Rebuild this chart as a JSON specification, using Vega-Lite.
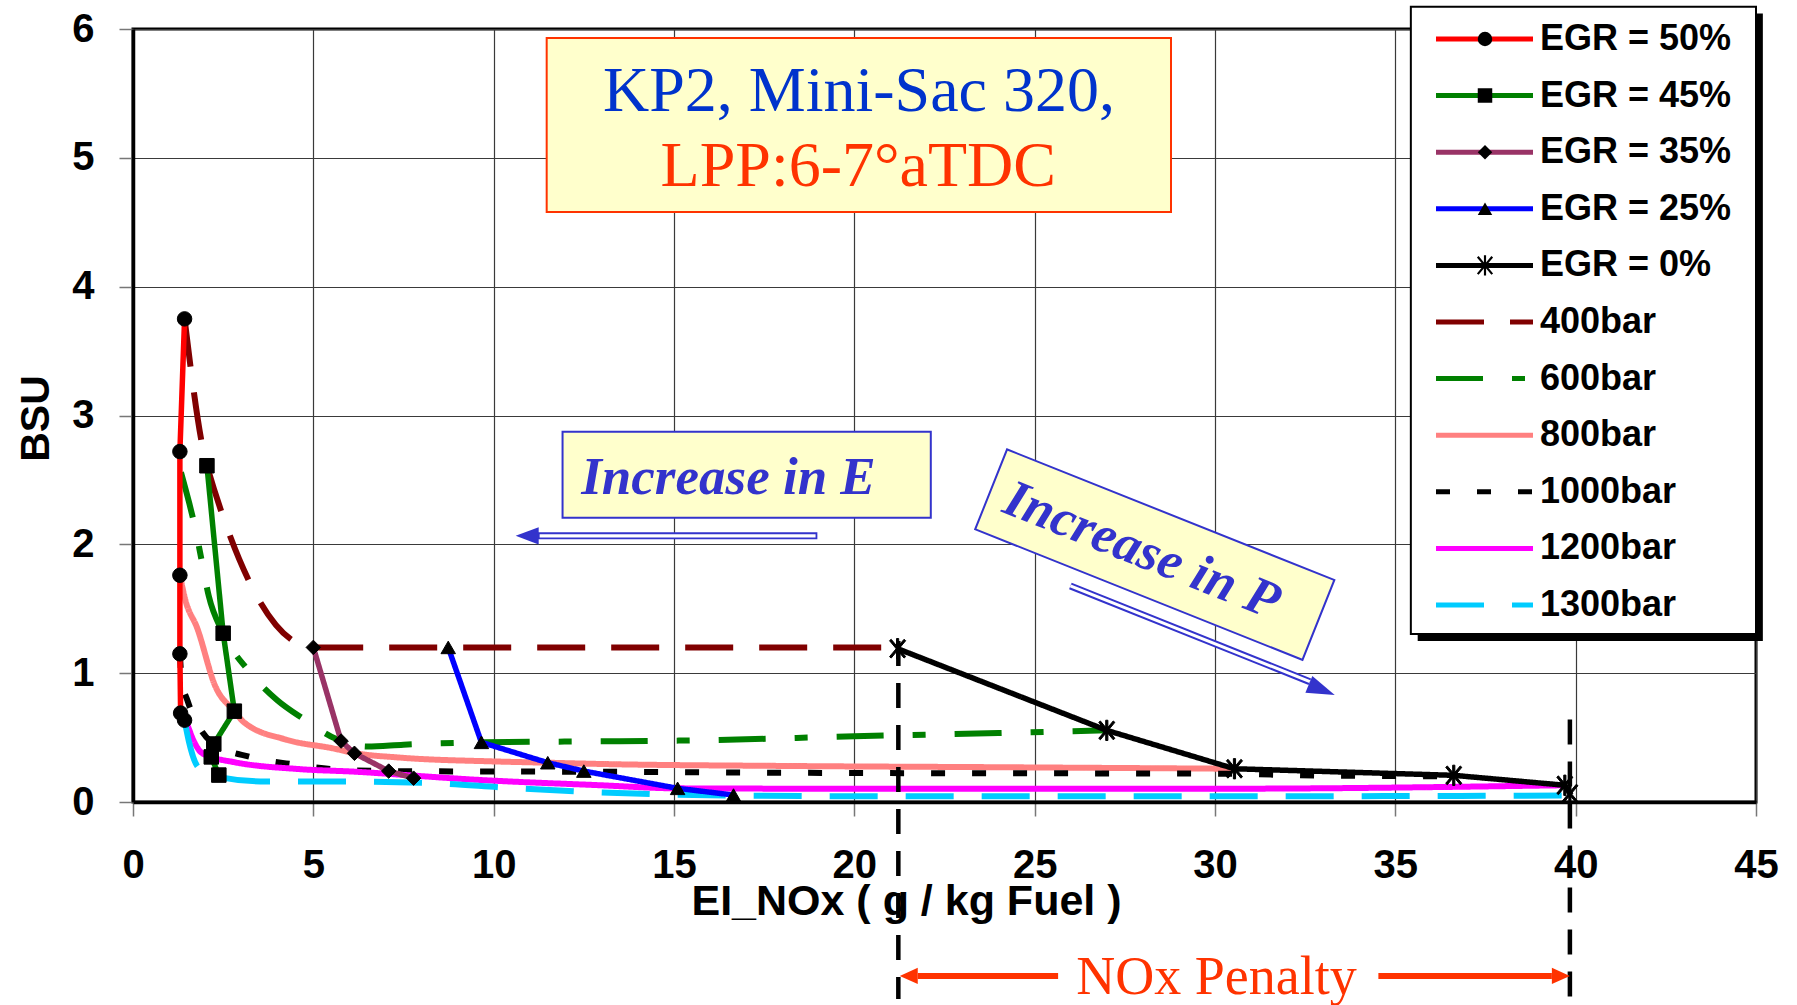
{
  "$schema": "https://vega.github.io/schema/vega-lite/v6.json",
  "width": 1623,
  "height": 773,
  "autosize": {"type": "none"},
  "padding": {"left": 133, "top": 29, "right": 41, "bottom": 203},
  "background": "white",
  "config": {
    "view": {"stroke": "black", "strokeWidth": 3},
    "axis": {
      "domainColor": "black", "domainWidth": 3.5,
      "grid": true, "gridColor": "#3a3a3a", "gridWidth": 1.2,
      "tickColor": "#777777", "tickWidth": 1.5, "tickSize": 14,
      "labelFont": "Liberation Sans", "labelFontWeight": "bold", "labelFontSize": 40, "labelColor": "black",
      "labelFlush": false, "labelOverlap": false,
      "titleFont": "Liberation Sans", "titleFontWeight": "bold", "titleFontSize": 41, "titleColor": "black"
    },
    "axisX": {"labelPadding": 29, "titleX": 773, "titleY": 112, "titleBaseline": "alphabetic", "titleAlign": "center", "titleFontSize": 43},
    "axisY": {"labelPadding": 25, "titleX": -85, "titleY": 389, "titleAngle": -90, "titleBaseline": "alphabetic", "titleAlign": "center"}
  },
  "datasets": {
    "curves": [
      {"series": "EGR = 50%", "x": 1.43, "y": 3.75},
      {"series": "EGR = 50%", "x": 1.30, "y": 2.72},
      {"series": "EGR = 50%", "x": 1.30, "y": 1.76},
      {"series": "EGR = 50%", "x": 1.30, "y": 1.15},
      {"series": "EGR = 50%", "x": 1.32, "y": 0.69},
      {"series": "EGR = 50%", "x": 1.43, "y": 0.635},
      {"series": "EGR = 45%", "x": 2.05, "y": 2.61},
      {"series": "EGR = 45%", "x": 2.50, "y": 1.31},
      {"series": "EGR = 45%", "x": 2.81, "y": 0.705},
      {"series": "EGR = 45%", "x": 2.24, "y": 0.45},
      {"series": "EGR = 45%", "x": 2.17, "y": 0.35},
      {"series": "EGR = 45%", "x": 2.38, "y": 0.209},
      {"series": "EGR = 35%", "x": 5.0, "y": 1.2},
      {"series": "EGR = 35%", "x": 5.77, "y": 0.473},
      {"series": "EGR = 35%", "x": 6.14, "y": 0.378},
      {"series": "EGR = 35%", "x": 7.09, "y": 0.24},
      {"series": "EGR = 35%", "x": 7.78, "y": 0.185},
      {"series": "EGR = 25%", "x": 8.74, "y": 1.2},
      {"series": "EGR = 25%", "x": 9.66, "y": 0.463},
      {"series": "EGR = 25%", "x": 11.5, "y": 0.305},
      {"series": "EGR = 25%", "x": 12.5, "y": 0.24},
      {"series": "EGR = 25%", "x": 15.1, "y": 0.106},
      {"series": "EGR = 25%", "x": 16.65, "y": 0.054},
      {"series": "EGR = 0%", "x": 21.2, "y": 1.19},
      {"series": "EGR = 0%", "x": 27.0, "y": 0.556},
      {"series": "EGR = 0%", "x": 30.54, "y": 0.258},
      {"series": "EGR = 0%", "x": 36.62, "y": 0.207},
      {"series": "EGR = 0%", "x": 39.7, "y": 0.13},
      {"series": "EGR = 0%", "x": 39.84, "y": 0.065},
      {"series": "400bar", "x": 1.43, "y": 3.75},
      {"series": "400bar", "x": 2.05, "y": 2.61},
      {"series": "400bar", "x": 5.0, "y": 1.2},
      {"series": "400bar", "x": 8.74, "y": 1.2},
      {"series": "400bar", "x": 21.2, "y": 1.2},
      {"series": "600bar", "x": 1.33, "y": 2.56},
      {"series": "600bar", "x": 1.55, "y": 2.33},
      {"series": "600bar", "x": 1.73, "y": 2.12},
      {"series": "600bar", "x": 1.9, "y": 1.88},
      {"series": "600bar", "x": 2.1, "y": 1.6},
      {"series": "600bar", "x": 2.5, "y": 1.31},
      {"series": "600bar", "x": 3.2, "y": 1.02},
      {"series": "600bar", "x": 4.0, "y": 0.79},
      {"series": "600bar", "x": 4.7, "y": 0.65},
      {"series": "600bar", "x": 5.77, "y": 0.473},
      {"series": "600bar", "x": 6.5, "y": 0.43},
      {"series": "600bar", "x": 7.5, "y": 0.445},
      {"series": "600bar", "x": 9.66, "y": 0.463},
      {"series": "600bar", "x": 12.5, "y": 0.47},
      {"series": "600bar", "x": 16.0, "y": 0.48},
      {"series": "600bar", "x": 20.0, "y": 0.51},
      {"series": "600bar", "x": 24.0, "y": 0.535},
      {"series": "600bar", "x": 27.0, "y": 0.556},
      {"series": "800bar", "x": 1.30, "y": 1.76},
      {"series": "800bar", "x": 1.45, "y": 1.57},
      {"series": "800bar", "x": 1.78, "y": 1.35},
      {"series": "800bar", "x": 2.28, "y": 0.90},
      {"series": "800bar", "x": 2.81, "y": 0.705},
      {"series": "800bar", "x": 3.07, "y": 0.62},
      {"series": "800bar", "x": 4.26, "y": 0.483},
      {"series": "800bar", "x": 5.55, "y": 0.416},
      {"series": "800bar", "x": 6.14, "y": 0.38},
      {"series": "800bar", "x": 7.39, "y": 0.345},
      {"series": "800bar", "x": 10.0, "y": 0.315},
      {"series": "800bar", "x": 11.5, "y": 0.305},
      {"series": "800bar", "x": 13.0, "y": 0.295},
      {"series": "800bar", "x": 18.0, "y": 0.28},
      {"series": "800bar", "x": 24.0, "y": 0.27},
      {"series": "800bar", "x": 30.54, "y": 0.258},
      {"series": "1000bar", "x": 1.30, "y": 1.15},
      {"series": "1000bar", "x": 1.35, "y": 0.95},
      {"series": "1000bar", "x": 1.52, "y": 0.78},
      {"series": "1000bar", "x": 1.8, "y": 0.6},
      {"series": "1000bar", "x": 2.24, "y": 0.45},
      {"series": "1000bar", "x": 3.25, "y": 0.35},
      {"series": "1000bar", "x": 4.5, "y": 0.29},
      {"series": "1000bar", "x": 5.73, "y": 0.25},
      {"series": "1000bar", "x": 7.09, "y": 0.24},
      {"series": "1000bar", "x": 12.5, "y": 0.235},
      {"series": "1000bar", "x": 20.0, "y": 0.225},
      {"series": "1000bar", "x": 30.0, "y": 0.22},
      {"series": "1000bar", "x": 33.0, "y": 0.205},
      {"series": "1000bar", "x": 36.62, "y": 0.2},
      {"series": "1200bar", "x": 1.32, "y": 0.69},
      {"series": "1200bar", "x": 1.5, "y": 0.6},
      {"series": "1200bar", "x": 1.69, "y": 0.47},
      {"series": "1200bar", "x": 1.87, "y": 0.39},
      {"series": "1200bar", "x": 2.17, "y": 0.35},
      {"series": "1200bar", "x": 2.79, "y": 0.31},
      {"series": "1200bar", "x": 4.63, "y": 0.255},
      {"series": "1200bar", "x": 6.17, "y": 0.235},
      {"series": "1200bar", "x": 7.78, "y": 0.205},
      {"series": "1200bar", "x": 9.08, "y": 0.18},
      {"series": "1200bar", "x": 12.96, "y": 0.13},
      {"series": "1200bar", "x": 15.1, "y": 0.106},
      {"series": "1200bar", "x": 20.0, "y": 0.103},
      {"series": "1200bar", "x": 30.0, "y": 0.103},
      {"series": "1200bar", "x": 39.7, "y": 0.13},
      {"series": "1300bar", "x": 1.43, "y": 0.635},
      {"series": "1300bar", "x": 1.55, "y": 0.47},
      {"series": "1300bar", "x": 1.78, "y": 0.28},
      {"series": "1300bar", "x": 2.15, "y": 0.21},
      {"series": "1300bar", "x": 2.38, "y": 0.195},
      {"series": "1300bar", "x": 3.53, "y": 0.16},
      {"series": "1300bar", "x": 5.68, "y": 0.16},
      {"series": "1300bar", "x": 8.3, "y": 0.147},
      {"series": "1300bar", "x": 10.4, "y": 0.11},
      {"series": "1300bar", "x": 12.5, "y": 0.08},
      {"series": "1300bar", "x": 14.6, "y": 0.06},
      {"series": "1300bar", "x": 16.65, "y": 0.05},
      {"series": "1300bar", "x": 20.0, "y": 0.045},
      {"series": "1300bar", "x": 30.0, "y": 0.044},
      {"series": "1300bar", "x": 39.84, "y": 0.05}
    ]
  },
  "encoding": {
    "x": {"field": "x", "type": "quantitative", "scale": {"domain": [0, 45], "nice": false, "zero": false}, "axis": {"title": "EI_NOx ( g / kg Fuel )", "values": [0, 5, 10, 15, 20, 25, 30, 35, 40, 45]}},
    "y": {"field": "y", "type": "quantitative", "scale": {"domain": [0, 6], "nice": false, "zero": false}, "axis": {"title": "BSU", "values": [0, 1, 2, 3, 4, 5, 6]}}
  },
  "layer": [
    {
      "data": {"values": [{"x": 35.62, "x2": 45.19, "y": 6.12, "y2": 1.25}]},
      "mark": {"type": "rect", "fill": "black", "clip": false},
      "encoding": {"x2": {"field": "x2"}, "y2": {"field": "y2"}}
    },
    {
      "data": {"values": [{"x": 35.43, "x2": 45.0, "y": 6.173, "y2": 1.304}]},
      "mark": {"type": "rect", "fill": "white", "stroke": "black", "strokeWidth": 2, "clip": false},
      "encoding": {"x2": {"field": "x2"}, "y2": {"field": "y2"}}
    },
    {
      "data": {"values": [{"x": 11.47, "x2": 28.78, "y": 5.93, "y2": 4.58}]},
      "mark": {"type": "rect", "fill": "#FFFFCC", "stroke": "#FF3300", "strokeWidth": 2},
      "encoding": {"x2": {"field": "x2"}, "y2": {"field": "y2"}}
    },
    {
      "data": {"values": [{"x": 20.13, "y": 5.364, "t": "KP2, Mini-Sac 320,"}]},
      "mark": {"type": "text", "font": "Liberation Serif", "fontSize": 64, "color": "#0033CC", "align": "center", "baseline": "alphabetic"},
      "encoding": {"text": {"field": "t"}}
    },
    {
      "data": {"values": [{"x": 20.11, "y": 4.78, "t": "LPP:6-7°aTDC"}]},
      "mark": {"type": "text", "font": "Liberation Serif", "fontSize": 64, "color": "#FF3300", "align": "center", "baseline": "alphabetic"},
      "encoding": {"text": {"field": "t"}}
    },
    {
      "data": {"values": [{"x": 11.91, "x2": 22.12, "y": 2.874, "y2": 2.207}]},
      "mark": {"type": "rect", "fill": "#FFFFCC", "stroke": "#3333CC", "strokeWidth": 2},
      "encoding": {"x2": {"field": "x2"}, "y2": {"field": "y2"}}
    },
    {
      "data": {"values": [{"x": 16.51, "y": 2.391, "t": "Increase in E"}]},
      "mark": {"type": "text", "font": "Liberation Serif", "fontSize": 53, "fontWeight": "bold", "fontStyle": "italic", "color": "#3333CC", "align": "center", "baseline": "alphabetic"},
      "encoding": {"text": {"field": "t"}}
    },
    {
      "data": {"values": [{"x": 11.25, "x2": 18.95, "y": 2.086, "y2": 2.047}]},
      "mark": {"type": "rect", "fill": "white", "stroke": "#3333CC", "strokeWidth": 1.8},
      "encoding": {"x2": {"field": "x2"}, "y2": {"field": "y2"}}
    },
    {
      "data": {"values": [{"x": 10.61, "y": 2.066}]},
      "mark": {"type": "point", "shape": "M0,0L2,-0.75L2,0.75Z", "size": 529, "filled": true, "fill": "#3333CC", "strokeWidth": 0, "opacity": 1}
    },
    {
      "data": {"values": [{"x": 28.33, "y": 1.92}]},
      "mark": {"type": "point", "shape": "M-1,-0.244L1,-0.244L1,0.244L-1,0.244Z", "size": 124186, "angle": 21.76, "filled": true, "fill": "#FFFFCC", "stroke": "#3333CC", "strokeWidth": 2, "opacity": 1}
    },
    {
      "data": {"values": [{"x": 27.97, "y": 1.951, "t": "Increase in P"}]},
      "mark": {"type": "text", "font": "Liberation Serif", "fontSize": 53, "fontWeight": "bold", "fontStyle": "italic", "color": "#3333CC", "align": "center", "baseline": "middle", "angle": 21.76},
      "encoding": {"text": {"field": "t"}}
    },
    {
      "data": {"values": [{"x": 25.99, "y": 1.677, "x2": 32.63, "y2": 0.934}]},
      "mark": {"type": "rule", "color": "#3333CC", "strokeWidth": 7},
      "encoding": {"x2": {"field": "x2"}, "y2": {"field": "y2"}}
    },
    {
      "data": {"values": [{"x": 25.99, "y": 1.677, "x2": 32.63, "y2": 0.934}]},
      "mark": {"type": "rule", "color": "white", "strokeWidth": 3},
      "encoding": {"x2": {"field": "x2"}, "y2": {"field": "y2"}}
    },
    {
      "data": {"values": [{"x": 33.32, "y": 0.83}]},
      "mark": {"type": "point", "shape": "M0,0L-2,-0.65L-2,0.65Z", "size": 784, "angle": 22.41, "filled": true, "fill": "#3333CC", "strokeWidth": 0, "opacity": 1}
    },
    {
      "data": {"name": "curves"},
      "transform": [{"filter": "indexof(datum.series, 'bar') > 0"}],
      "mark": {"type": "line", "interpolate": "monotone", "strokeWidth": 6},
      "encoding": {
        "order": {"value": null},
        "color": {
          "field": "series", "type": "nominal",
          "scale": {"domain": ["EGR = 50%", "EGR = 45%", "EGR = 35%", "EGR = 25%", "EGR = 0%", "400bar", "600bar", "800bar", "1000bar", "1200bar", "1300bar"],
                    "range": ["#FF0000", "#008000", "#993366", "#0000FF", "#000000", "#800000", "#008000", "#FF8080", "#000000", "#FF00FF", "#00CCFF"]},
          "legend": {"orient": "none", "legendX": 1277, "legendY": -21, "padding": 11, "clipHeight": 40, "rowPadding": 16.6, "title": null, "symbolType": "stroke", "symbolSize": 9409, "symbolStrokeWidth": 5, "symbolOffset": 12.5, "labelOffset": 4.5, "labelFont": "Liberation Sans", "labelFontWeight": "bold", "labelFontSize": 36, "labelColor": "black", "labelLimit": 400}
        },
        "strokeDash": {
          "field": "series", "type": "nominal",
          "scale": {"domain": ["EGR = 50%", "EGR = 45%", "EGR = 35%", "EGR = 25%", "EGR = 0%", "400bar", "600bar", "800bar", "1000bar", "1200bar", "1300bar"],
                    "range": [[1, 0], [1, 0], [1, 0], [1, 0], [1, 0], [48, 26], [47, 29, 13, 29], [1, 0], [14, 27], [1, 0], [48, 28]]},
          "legend": {"orient": "none", "legendX": 1277, "legendY": -21, "padding": 11, "clipHeight": 40, "rowPadding": 16.6, "title": null, "symbolType": "stroke", "symbolSize": 9409, "symbolStrokeWidth": 5, "symbolOffset": 12.5, "labelOffset": 4.5, "labelFont": "Liberation Sans", "labelFontWeight": "bold", "labelFontSize": 36, "labelColor": "black", "labelLimit": 400}
        }
      }
    },
    {
      "data": {"name": "curves"},
      "transform": [{"filter": "indexof(datum.series, 'EGR') == 0"}],
      "mark": {"type": "line", "interpolate": "linear", "strokeWidth": 5.5},
      "encoding": {
        "order": {"value": null},
        "color": {
          "field": "series", "type": "nominal",
          "scale": {"domain": ["EGR = 50%", "EGR = 45%", "EGR = 35%", "EGR = 25%", "EGR = 0%", "400bar", "600bar", "800bar", "1000bar", "1200bar", "1300bar"],
                    "range": ["#FF0000", "#008000", "#993366", "#0000FF", "#000000", "#800000", "#008000", "#FF8080", "#000000", "#FF00FF", "#00CCFF"]},
          "legend": {"orient": "none", "legendX": 1277, "legendY": -21, "padding": 11, "clipHeight": 40, "rowPadding": 16.6, "title": null, "symbolType": "stroke", "symbolSize": 9409, "symbolStrokeWidth": 5, "symbolOffset": 12.5, "labelOffset": 4.5, "labelFont": "Liberation Sans", "labelFontWeight": "bold", "labelFontSize": 36, "labelColor": "black", "labelLimit": 400}
        },
        "strokeDash": {
          "field": "series", "type": "nominal",
          "scale": {"domain": ["EGR = 50%", "EGR = 45%", "EGR = 35%", "EGR = 25%", "EGR = 0%", "400bar", "600bar", "800bar", "1000bar", "1200bar", "1300bar"],
                    "range": [[1, 0], [1, 0], [1, 0], [1, 0], [1, 0], [48, 26], [47, 29, 13, 29], [1, 0], [14, 27], [1, 0], [48, 28]]},
          "legend": {"orient": "none", "legendX": 1277, "legendY": -21, "padding": 11, "clipHeight": 40, "rowPadding": 16.6, "title": null, "symbolType": "stroke", "symbolSize": 9409, "symbolStrokeWidth": 5, "symbolOffset": 12.5, "labelOffset": 4.5, "labelFont": "Liberation Sans", "labelFontWeight": "bold", "labelFontSize": 36, "labelColor": "black", "labelLimit": 400}
        }
      }
    },
    {
      "data": {"name": "curves"},
      "transform": [{"filter": "indexof(datum.series, 'EGR') == 0"}],
      "mark": {"type": "point", "filled": true, "fill": "black", "stroke": "black", "strokeWidth": 1, "size": 210, "opacity": 1},
      "encoding": {
        "shape": {
          "field": "series", "type": "nominal",
          "scale": {"domain": ["EGR = 50%", "EGR = 45%", "EGR = 35%", "EGR = 25%", "EGR = 0%"],
                    "range": ["circle", "square", "diamond", "triangle-up", "M-0.15,-1.4L0.15,-1.4L0.15,1.4L-0.15,1.4ZM-0.885,-1.296L1.115,1.104L0.885,1.296L-1.115,-1.104ZM-1.115,1.104L0.885,-1.296L1.115,-1.104L-0.885,1.296Z"]},
          "legend": {"orient": "none", "legendX": 1323, "legendY": -21, "padding": 11, "clipHeight": 40, "rowPadding": 16.6, "title": null, "symbolSize": 210, "symbolFillColor": "black", "symbolStrokeColor": "black", "symbolStrokeWidth": 1, "labelExpr": "''", "labelOpacity": 0, "labelFont": "Liberation Sans", "labelFontWeight": "bold", "labelFontSize": 36, "labelLimit": 400}
        }
      }
    },
    {
      "data": {"values": [{"x": 21.22, "y": 1.25, "y2": -1.53}, {"x": 39.84, "y": 0.64, "y2": -1.53}]},
      "mark": {"type": "rule", "color": "black", "strokeWidth": 4.5, "strokeDash": [25, 17], "clip": false},
      "encoding": {"y2": {"field": "y2"}}
    },
    {
      "data": {"values": [{"x": 21.76, "x2": 25.65, "y": -1.35}, {"x": 34.53, "x2": 39.34, "y": -1.35}]},
      "mark": {"type": "rule", "color": "#FF3300", "strokeWidth": 6, "clip": false},
      "encoding": {"x2": {"field": "x2"}}
    },
    {
      "data": {"values": [{"x": 21.26, "y": -1.35}]},
      "mark": {"type": "point", "shape": "M0,0L2,-0.9L2,0.9Z", "size": 324, "filled": true, "fill": "#FF3300", "strokeWidth": 0, "opacity": 1, "clip": false}
    },
    {
      "data": {"values": [{"x": 39.84, "y": -1.35}]},
      "mark": {"type": "point", "shape": "M0,0L-2,-0.9L-2,0.9Z", "size": 324, "filled": true, "fill": "#FF3300", "strokeWidth": 0, "opacity": 1, "clip": false}
    },
    {
      "data": {"values": [{"x": 30.04, "y": -1.49, "t": "NOx Penalty"}]},
      "mark": {"type": "text", "font": "Liberation Serif", "fontSize": 54, "color": "#FF3300", "align": "center", "baseline": "alphabetic", "clip": false},
      "encoding": {"text": {"field": "t"}}
    }
  ]
}
